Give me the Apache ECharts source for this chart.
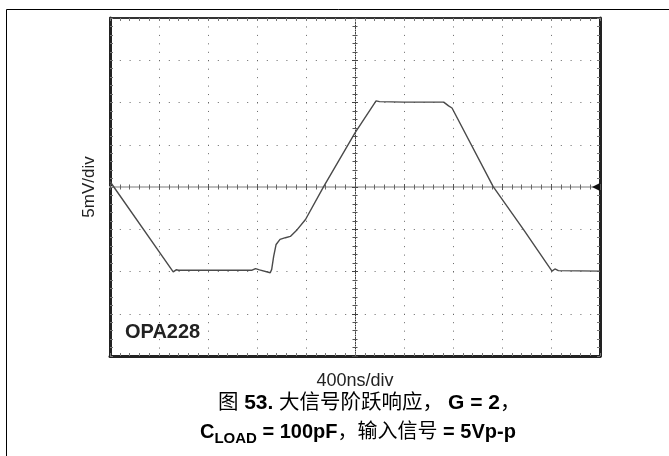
<!DOCTYPE html>
<html>
<head>
<meta charset="utf-8">
<script src="https://cdn.jsdelivr.net/npm/echarts@6/dist/echarts.min.js"></script>
<style>html,body{margin:0;padding:0;background:#fff}#c{width:669px;height:456px}</style>
</head>
<body>
<div id="c"></div>
<script>
// Time axis: 400 ns/div, 10 divisions; vertical: 5 mV/div, 8 divisions
const timeNs = [0, 516, 540, 560, 1160, 1188, 1220, 1308, 1320, 1336, 1356, 1388, 1432, 1472, 1528, 1596, 1744, 2000, 2172, 2200, 2400, 2724, 2764, 2792, 3128, 3376, 3608, 3632, 3660, 4000];
const outputMv = [0.65, -10.05, -9.8, -9.85, -9.85, -9.65, -9.8, -10.15, -9.75, -8.2, -6.8, -6.2, -6.0, -5.85, -5.05, -3.85, 0.05, 6.4, 10.2, 10.1, 10.05, 10.05, 9.6, 9.35, 0.05, -5.05, -9.95, -9.7, -9.9, -9.95];
const xRange = [0, 4000];
const xStep = 400;
const yRange = [-20, 20];
const yStep = 5;
const xLabel = '400ns/div';
const yLabel = '5mV/div';
const deviceLabel = 'OPA228';
const captionLine1 = ['图 ', '53.', ' 大信号阶跃响应，', 'G = 2', '，'];
const captionLine2 = ['C', 'LOAD', ' = 100pF', '，输入信号', ' = 5Vp-p'];

const LAT = "'Liberation Sans', Arial, 'Noto Sans CJK SC', sans-serif";
const CJK = "'Liberation Sans', 'Noto Sans CJK SC', sans-serif";

const GRID = {left: 110, top: 18, width: 490, height: 338};

function xAx(extra) {
  return Object.assign({
    type: 'value', min: xRange[0], max: xRange[1], interval: xStep,
    axisLabel: {show: false}, splitLine: {show: false}
  }, extra);
}
function yAx(extra) {
  return Object.assign({
    type: 'value', min: yRange[0], max: yRange[1], interval: yStep,
    axisLabel: {show: false}, splitLine: {show: false}
  }, extra);
}
const tickStyle = {color: '#777', width: 1};

const chart = echarts.init(document.getElementById('c'), null, {renderer: 'canvas'});
chart.setOption({
  animation: false,
  backgroundColor: '#fff',
  grid: GRID,
  graphic: [{
    type: 'rect', silent: true, z: -10,
    shape: {x: 6.5, y: 9.5, width: 700, height: 500},
    style: {fill: 'none', stroke: '#000', lineWidth: 1}
  }],
  title: [
    {
      text: '{c|' + captionLine1[0] + '}{b|' + captionLine1[1] + '}{c|' + captionLine1[2] + '}{g|' + captionLine1[3] + '}{c|' + captionLine1[4] + '}',
      left: 218, top: 391, padding: 0,
      textStyle: {rich: {
        b: {fontFamily: LAT, fontSize: 21, fontWeight: 'bold', color: '#000', lineHeight: 24},
        g: {fontFamily: LAT, fontSize: 21, fontWeight: 'bold', color: '#000', lineHeight: 24, padding: [0, 0, 0, 5]},
        c: {fontFamily: CJK, fontSize: 20.5, fontWeight: 'normal', color: '#000', lineHeight: 24}
      }}
    },
    {
      text: '{b|' + captionLine2[0] + '}{s|' + captionLine2[1] + '}{b|' + captionLine2[2] + '}{c|' + captionLine2[3] + '}{b|' + captionLine2[4] + '}',
      left: 200, top: 420, padding: 0,
      textStyle: {rich: {
        b: {fontFamily: LAT, fontSize: 20, fontWeight: 'bold', color: '#000', lineHeight: 24},
        s: {fontFamily: LAT, fontSize: 15, fontWeight: 'bold', color: '#000', lineHeight: 15, padding: [14, 0, 0, 0]},
        c: {fontFamily: CJK, fontSize: 20, fontWeight: 'normal', color: '#000', lineHeight: 24}
      }}
    },
    {
      text: deviceLabel, left: 125, top: 320, padding: 0,
      textStyle: {fontFamily: LAT, fontSize: 20, fontWeight: 'bold', color: '#222', lineHeight: 24}
    }
  ],
  xAxis: [
    xAx({
      position: 'bottom',
      axisLine: {show: true, onZero: false, lineStyle: {color: '#222', width: 3}},
      axisTick: {show: true, inside: true, length: 3, lineStyle: tickStyle},
      minorTick: {show: true, splitNumber: 5, length: 3, lineStyle: tickStyle},
      splitLine: {show: true, lineStyle: {color: '#666', width: 1, type: [1, 7.45]}},
      name: xLabel, nameLocation: 'middle', nameGap: 16,
      nameTextStyle: {fontFamily: LAT, fontSize: 18, color: '#222'}
    }),
    xAx({
      position: 'top',
      axisLine: {show: true, onZero: false, lineStyle: {color: '#333', width: 2}},
      axisTick: {show: true, inside: true, length: 3, lineStyle: tickStyle},
      minorTick: {show: true, splitNumber: 5, length: 3, lineStyle: tickStyle}
    }),
    xAx({
      position: 'bottom', offset: -GRID.height / 2,
      axisLine: {show: true, onZero: false, lineStyle: {color: '#bdbdbd', width: 2}},
      axisTick: {show: true, inside: true, length: 3, lineStyle: {color: '#555'}},
      minorTick: {show: true, splitNumber: 5, length: 2.5, lineStyle: {color: '#666'}}
    }),
    xAx({
      position: 'bottom', offset: -GRID.height / 2,
      axisLine: {show: false, onZero: false},
      axisTick: {show: true, inside: false, length: 3, lineStyle: {color: '#555'}},
      minorTick: {show: true, splitNumber: 5, length: 2.5, lineStyle: {color: '#666'}}
    })
  ],
  yAxis: [
    yAx({
      position: 'left',
      axisLine: {show: true, onZero: false, lineStyle: {color: '#222', width: 3}},
      axisTick: {show: true, inside: true, length: 3, lineStyle: tickStyle},
      minorTick: {show: true, splitNumber: 5, length: 3, lineStyle: tickStyle},
      splitLine: {show: true, lineStyle: {color: '#666', width: 1, type: [1, 8.8]}},
      name: yLabel, nameLocation: 'middle', nameGap: 12, nameRotate: 90,
      nameTextStyle: {fontFamily: LAT, fontSize: 17, color: '#222'}
    }),
    yAx({
      position: 'right',
      axisLine: {show: true, onZero: false, lineStyle: {color: '#222', width: 3}},
      axisTick: {show: true, inside: true, length: 3, lineStyle: tickStyle},
      minorTick: {show: true, splitNumber: 5, length: 3, lineStyle: tickStyle}
    }),
    yAx({
      position: 'left', offset: -GRID.width / 2,
      axisLine: {show: true, onZero: false, lineStyle: {color: '#333', width: 1, type: [1, 1.5]}},
      axisTick: {show: true, inside: true, length: 3, lineStyle: {color: '#444'}},
      minorTick: {show: true, splitNumber: 5, length: 2.5, lineStyle: {color: '#555'}}
    }),
    yAx({
      position: 'left', offset: -GRID.width / 2,
      axisLine: {show: false, onZero: false},
      axisTick: {show: true, inside: false, length: 3, lineStyle: {color: '#444'}},
      minorTick: {show: true, splitNumber: 5, length: 2.5, lineStyle: {color: '#555'}}
    })
  ],
  series: [{
    type: 'line',
    xAxisIndex: 0, yAxisIndex: 0,
    data: timeNs.map((t, i) => [t, outputMv[i]]),
    showSymbol: false, symbol: 'none',
    lineStyle: {color: '#4a4a4a', width: 1.4},
    z: 5,
    markPoint: {
      silent: true,
      symbol: 'triangle', symbolSize: [8, 8], symbolRotate: 90, symbolOffset: [-4, 0],
      itemStyle: {color: '#111'},
      label: {show: false},
      data: [{coord: [xRange[1], 0]}]
    }
  }]
});
</script>
</body>
</html>
